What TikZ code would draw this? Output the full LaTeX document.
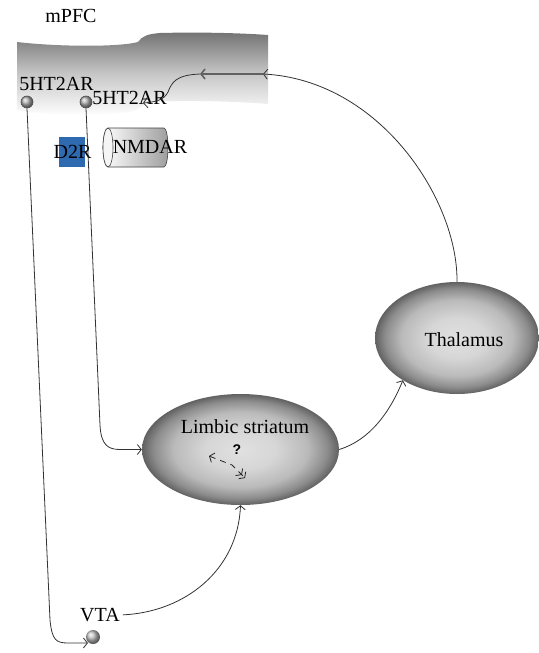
\documentclass[tikz,border=0pt]{standalone}
\usepackage{fontspec}
\setmainfont{Liberation Serif}
\newfontfamily\qfont{Liberation Sans}
\usetikzlibrary{arrows.meta,shapes.geometric}
\definecolor{d2blue}{RGB}{46,106,176}
\pgfdeclareradialshading{regionshade}{\pgfpoint{0bp}{0bp}}{%
  color(0bp)=(black!12); color(9bp)=(black!16); color(17bp)=(black!27);
  color(22bp)=(black!45); color(25bp)=(black!62); color(50bp)=(black!62)}
\begin{document}
\begin{tikzpicture}[x=1pt,y=-1pt,
  font=\fontsize{20}{24}\selectfont,
  conn/.style={draw=black!80, line width=0.8pt},
  tip/.style={-{Straight Barb[length=4pt,width=10pt]}},
  graybar/.style={draw=black!62, line width=1.6pt},
  region/.style={ellipse, inner sep=0pt, shading=regionshade},
  receptor/.style={circle, minimum size=12pt, inner sep=0pt, shading=ball, ball color=black!30, draw=black!70, line width=0.6pt},
  lightball/.style={circle, minimum size=14pt, inner sep=0pt, shading=ball, ball color=black!25},
  lbl/.style={inner sep=0pt}
]
\useasboundingbox (0,0) rectangle (538,653);

% mPFC band
\shade[top color=black!55, bottom color=white, middle color=black!22]
  (17,42) .. controls (60,47) and (120,47) .. (138,42)
  .. controls (142,36) and (148,34) .. (160,33)
  .. controls (200,32) and (240,33) .. (268,35)
  -- (268,104) .. controls (230,101) and (180,100) .. (150,102)
  .. controls (142,104) and (140,110) .. (130,112)
  .. controls (90,116) and (40,115) .. (17,110) -- cycle;
\node[lbl] (mpfc) at (71,16) {mPFC};

% receptors
\node[receptor] (r1) at (27,102) {};
\node[receptor] (r2) at (86,102) {};
\node[lbl] (l1) at (56.5,84) {5HT2AR};
\node[lbl] (l2) at (129.5,98) {5HT2AR};

% D2R
\node[fill=d2blue, minimum width=26pt, minimum height=30pt, inner sep=0pt] (d2box) at (72,152) {};
\node[lbl] (d2) at (72.5,152) {D2R};

% NMDAR cylinder
\shade[left color=white, right color=black!38, draw=black!75, line width=0.6pt]
  (108,128) -- (164,128) arc[start angle=-90, end angle=90, x radius=4, y radius=19.5]
  -- (108,167) arc[start angle=90, end angle=270, x radius=5, y radius=19.5] -- cycle;
\draw[black!75, line width=0.6pt, fill=white!96!black] (108,147.5) ellipse[x radius=5, y radius=19.5];
\node[lbl] (nmdar) at (150,147) {NMDAR};

% regions
\node[region, minimum width=197pt, minimum height=111pt] (ls) at (240.5,449.5) {};
\node[lbl] (lsl) at (245,427) {Limbic striatum};
\node[region, minimum width=164pt, minimum height=112pt] (th) at (457,338) {};
\node[lbl] (thl) at (464,340) {Thalamus};

% VTA
\node[lbl] (vta) at (100,615) {VTA};
\node[lightball] (vtaball) at (93,637) {};

% question mark & dashed arrows
\node[lbl, font=\qfont\bfseries\fontsize{14}{15}\selectfont] (q) at (237,450) {?};
\coordinate (qa) at (209,456);
\coordinate (qm) at (232,465);
\coordinate (qb) at (245,478);
\draw[black!85, line width=0.8pt, dash pattern=on 6pt off 5pt,
  {Straight Barb[length=4pt,width=10pt]}-{Straight Barb[length=3.5pt,width=10pt] Straight Barb[length=3.5pt,width=10pt]}]
  (qa) -- (qm) -- (qb);

% connectors
\coordinate (c1) at (263,74);
\coordinate (c2) at (200,74);
\coordinate (c3) at (143,103);
\draw[conn, tip] (th.north) .. controls (458,200) and (380,80) .. (c1);
\draw[graybar, tip] (c1) -- (c2);
\draw[conn, tip] (c2) .. controls (176,75) and (172,82) .. (168,92)
  .. controls (164,100) and (156,102) .. (c3);

\draw[conn, tip] (r1.south) -- (50,620) .. controls (52,640) and (56,643) .. (68,643) -- (vtaball.south west |- 0,643);
\draw[conn, tip] (r2.south) -- (100,425) .. controls (101,445) and (108,449.5) .. (120,449.5) -- (ls.west);
\draw[conn, tip] (ls.east) .. controls (370,440) and (390,412) .. (th.218);
\draw[conn, tip, shorten <=3pt] (vta.east) .. controls (185,612) and (238,570) .. (ls.south);
\end{tikzpicture}
\end{document}
